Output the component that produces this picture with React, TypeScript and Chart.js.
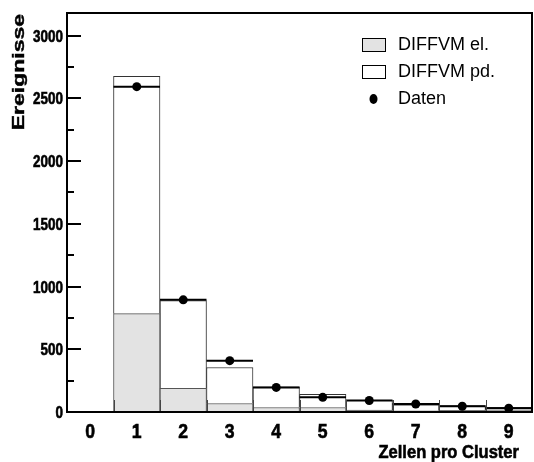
import React, { useEffect, useRef } from "react";
import { Chart, registerables } from "chart.js";

Chart.register(...registerables);

// ---- data ----
const BINS = [0, 1, 2, 3, 4, 5, 6, 7, 8, 9];
const EL = [0, 784, 189, 68, 36, 36, 16, 10, 14, 12];
const PD = [0, 1891, 699, 287, 164, 105, 78, 48, 38, 26];
const DATA: (number | null)[] = [null, 2593, 894, 409, 196, 117, 92, 64, 46, 30];
const X_TICKS = [0, 1, 2, 3, 4, 5, 6, 7, 8, 9];
const Y_TICKS = [0, 500, 1000, 1500, 2000, 2500, 3000];
const Y_MINOR_STEP = 250;
const X_MIN = -0.5;
const X_MAX = 9.5;
const Y_MAX = 3180;
const LABEL_EL = "DIFFVM el.";
const LABEL_PD = "DIFFVM pd.";
const LABEL_DATA = "Daten";
const X_TITLE = "Zellen pro Cluster";
const Y_TITLE = "Ereignisse";

const SANS = "'Liberation Sans', Arial, sans-serif";
const GRAY_FILL = "#e3e3e3";

function narrowText(
  ctx: CanvasRenderingContext2D,
  text: string,
  x: number,
  y: number,
  align: CanvasTextAlign,
  sx: number
) {
  ctx.save();
  ctx.translate(x, y);
  ctx.scale(sx, 1);
  ctx.textAlign = align;
  ctx.textBaseline = "alphabetic";
  ctx.fillText(text, 0, 0);
  ctx.lineWidth = 0.6;
  ctx.strokeStyle = "#000";
  ctx.strokeText(text, 0, 0);
  ctx.restore();
}

const decorPlugin = {
  id: "decor",
  afterDraw(chart: any) {
    const ctx = chart.ctx as CanvasRenderingContext2D;
    const ca = chart.chartArea;
    const xs = chart.scales.x;
    const ys = chart.scales.y;
    ctx.save();
    ctx.strokeStyle = "#000";
    // y ticks (inside)
    ctx.lineWidth = 2;
    for (let v = 0; v <= Y_MAX; v += Y_MINOR_STEP) {
      const y = Math.round(ys.getPixelForValue(v));
      const len = Y_TICKS.includes(v) ? 14 : 7;
      ctx.beginPath();
      ctx.moveTo(ca.left, y);
      ctx.lineTo(ca.left + len, y);
      ctx.stroke();
    }
    // x ticks at bin edges (inside)
    ctx.lineWidth = 1;
    ctx.strokeStyle = "#444";
    for (let i = 0; i < BINS.length - 1; i++) {
      const x = Math.round(xs.getPixelForValue(BINS[i] + 0.5)) + 0.5;
      ctx.beginPath();
      ctx.moveTo(x, ca.bottom);
      ctx.lineTo(x, ca.bottom - 12);
      ctx.stroke();
    }
    // frame
    ctx.strokeStyle = "#000";
    ctx.lineWidth = 2;
    ctx.strokeRect(ca.left, ca.top, ca.right - ca.left, ca.bottom - ca.top);

    ctx.fillStyle = "#000";
    // tick labels (from the library's scales)
    ctx.font = `bold 16px ${SANS}`;
    ys.ticks.forEach((t: any) => {
      const y = ys.getPixelForValue(t.value);
      narrowText(ctx, String(t.value), ca.left - 4, y + 6, "right", 0.84);
    });
    ctx.font = `bold 21px ${SANS}`;
    xs.ticks.forEach((t: any) => {
      const x = xs.getPixelForValue(t.value);
      narrowText(ctx, String(t.value), x, ca.bottom + 26, "center", 0.84);
    });

    // axis titles
    ctx.font = `bold 19px ${SANS}`;
    narrowText(ctx, X_TITLE, ca.right - 13, 458, "right", 0.87);

    ctx.save();
    ctx.translate(24, ca.top + 1);
    ctx.rotate(-Math.PI / 2);
    ctx.scale(1, 0.68);
    ctx.font = `bold 23px ${SANS}`;
    ctx.textAlign = "right";
    ctx.textBaseline = "alphabetic";
    ctx.fillText(Y_TITLE, 0, 0);
    ctx.lineWidth = 0.6;
    ctx.strokeText(Y_TITLE, 0, 0);
    ctx.restore();

    // legend
    const ds = chart.data.datasets;
    const byId = (id: string) => ds.find((d: any) => d.id === id);
    const items = [
      { d: byId("el"), kind: "box", fill: GRAY_FILL },
      { d: byId("pd"), kind: "box", fill: "#ffffff" },
      { d: byId("data"), kind: "dot", fill: "#000" },
    ];
    const boxX = 362;
    const textX = 398;
    const baseY = 50;
    const step = 27;
    ctx.font = `18px ${SANS}`;
    ctx.textAlign = "left";
    ctx.textBaseline = "alphabetic";
    items.forEach((it, i) => {
      const by = baseY + i * step;
      if (it.kind === "box") {
        ctx.fillStyle = it.fill;
        ctx.fillRect(boxX, by - 12, 24, 13);
        ctx.strokeStyle = "#000";
        ctx.lineWidth = 1;
        ctx.strokeRect(boxX + 0.5, by - 11.5, 23, 13);
      } else {
        ctx.fillStyle = "#000";
        ctx.beginPath();
        ctx.ellipse(boxX + 11.5, by - 5, 4, 5, 0, 0, Math.PI * 2);
        ctx.fill();
      }
      ctx.fillStyle = "#000";
      ctx.fillText(it.d.label, textX, by);
    });
    ctx.restore();
  },
};

export default function App() {
  const ref = useRef<HTMLCanvasElement | null>(null);

  useEffect(() => {
    if (!ref.current) return;
    const dataPts: any[] = [];
    BINS.forEach((b, i) => {
      const v = DATA[i];
      if (v === null) return;
      dataPts.push({ x: b - 0.5, y: v, c: false });
      dataPts.push({ x: b, y: v, c: true });
      dataPts.push({ x: b + 0.5, y: v, c: false });
      dataPts.push({ x: b + 0.5, y: null, c: false });
    });

    const chart = new Chart(ref.current, {
      type: "bar",
      data: {
        datasets: [
          {
            id: "data",
            type: "line",
            label: LABEL_DATA,
            data: dataPts,
            borderColor: "#000",
            backgroundColor: "#000",
            borderWidth: 2,
            spanGaps: false,
            pointRadius: (c: any) => (c.raw && c.raw.c ? 4.5 : 0),
            pointHoverRadius: 0,
            pointBorderWidth: 0,
            order: 0,
          } as any,
          {
            id: "el",
            type: "bar",
            label: LABEL_EL,
            data: BINS.map((b, i) => ({ x: b, y: EL[i] })),
            backgroundColor: GRAY_FILL,
            borderColor: "#555",
            borderWidth: { top: 1, left: 1, right: 1, bottom: 0 },
            borderSkipped: "start",
            barPercentage: 1,
            categoryPercentage: 1,
            grouped: false,
            order: 1,
          } as any,
          {
            id: "pd",
            type: "bar",
            label: LABEL_PD,
            data: BINS.map((b, i) => ({ x: b, y: [EL[i], EL[i] + PD[i]] })),
            backgroundColor: "#ffffff",
            borderColor: "#333",
            borderWidth: { top: 1, left: 1, right: 1, bottom: 0 },
            borderSkipped: "start",
            barPercentage: 1,
            categoryPercentage: 1,
            grouped: false,
            order: 2,
          } as any,
        ],
      },
      options: {
        responsive: false,
        animation: false,
        devicePixelRatio: 1,
        layout: { padding: { top: 13, right: 2, left: 0, bottom: 0 } },
        plugins: {
          legend: { display: false },
          tooltip: { enabled: false },
          title: { display: false },
        },
        scales: {
          x: {
            type: "linear",
            min: X_MIN,
            max: X_MAX,
            offset: false,
            afterBuildTicks: (s: any) => {
              s.ticks = X_TICKS.map((v) => ({ value: v }));
            },
            afterFit: (s: any) => {
              s.height = 50;
            },
            grid: { display: false, drawTicks: false },
            border: { display: false },
            ticks: { display: false, autoSkip: false },
          },
          y: {
            type: "linear",
            min: 0,
            max: Y_MAX,
            afterBuildTicks: (s: any) => {
              s.ticks = Y_TICKS.map((v) => ({ value: v }));
            },
            afterFit: (s: any) => {
              s.width = 67;
            },
            grid: { display: false, drawTicks: false },
            border: { display: false },
            ticks: { display: false, autoSkip: false },
          },
        },
      } as any,
      plugins: [decorPlugin],
    });
    return () => chart.destroy();
  }, []);

  return (
    <div style={{ position: "absolute", left: 0, top: 0, width: 534, height: 462, background: "#fff" }}>
      <canvas ref={ref} width={534} height={462} style={{ display: "block" }} />
    </div>
  );
}
